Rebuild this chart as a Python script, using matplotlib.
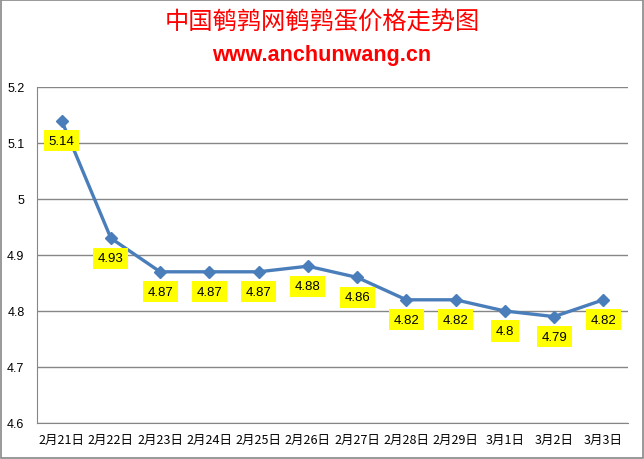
import matplotlib
matplotlib.use("Agg")
import matplotlib.pyplot as plt
from matplotlib.patches import Rectangle

dates = ["2月21日", "2月22日", "2月23日", "2月24日", "2月25日", "2月26日",
         "2月27日", "2月28日", "2月29日", "3月1日", "3月2日", "3月3日"]
prices = [5.14, 4.93, 4.87, 4.87, 4.87, 4.88, 4.86, 4.82, 4.82, 4.80, 4.79, 4.82]
price_labels = ["5.14", "4.93", "4.87", "4.87", "4.87", "4.88", "4.86", "4.82", "4.82", "4.8", "4.79", "4.82"]
yticks = [4.6, 4.7, 4.8, 4.9, 5.0, 5.1, 5.2]
ytick_labels = ["4.6", "4.7", "4.8", "4.9", "5", "5.1", "5.2"]
title = "中国鹌鹑网鹌鹑蛋价格走势图"
subtitle = "www.anchunwang.cn"

cjk = ["Noto Sans CJK SC", "DejaVu Sans"]
plt.rcParams["font.family"] = ["Liberation Sans", "Noto Sans CJK SC", "DejaVu Sans"]

fig = plt.figure(figsize=(6.44, 4.60), dpi=100)
fig.patches.append(Rectangle((0.002, 0.002), 0.996, 0.995, transform=fig.transFigure,
                             fill=False, edgecolor="#888888", linewidth=1.2))

ax = fig.add_axes([37/644, 1-424/460, (628-37)/644, (424-88)/460])
x = list(range(len(dates)))
ax.plot(x, prices, color="#4a7ebb", linewidth=2.4, marker="D", markersize=6.5,
        markeredgecolor="#4a7ebb", markerfacecolor="#4a7ebb", zorder=3)
for xi, yi, lab in zip(x, prices, price_labels):
    ax.annotate(lab, (xi, yi), xytext=(0, -20), textcoords="offset pixels",
                ha="center", va="center", fontsize=9.5, color="black",
                bbox=dict(boxstyle="square,pad=0.35", facecolor="#ffff00", edgecolor="none"),
                zorder=4)

ax.set_xlim(-0.5, len(dates) - 0.5)
ax.set_ylim(4.6, 5.2)
ax.set_yticks(yticks)
ax.set_yticklabels(ytick_labels, fontsize=9)
ax.set_xticks(x)
ax.set_xticklabels(dates, fontsize=9, family=cjk)
ax.grid(axis="y", color="#868686", linewidth=1)
ax.set_axisbelow(True)
for s in ["top", "right"]:
    ax.spines[s].set_visible(False)
for s in ["left", "bottom"]:
    ax.spines[s].set_color("#868686")
ax.tick_params(axis="x", length=0, pad=7)
ax.tick_params(axis="y", length=0, pad=9)

fig.text(0.5, 1-22/460, title, ha="center", va="center", color="#ff0000",
         fontsize=17.5, family=cjk)
fig.text(0.5, 1-55/460, subtitle, ha="center", va="center", color="#ff0000",
         fontsize=15.5, fontweight="bold", family=["Liberation Sans", "DejaVu Sans"])

fig.savefig("out.png", dpi=100)
